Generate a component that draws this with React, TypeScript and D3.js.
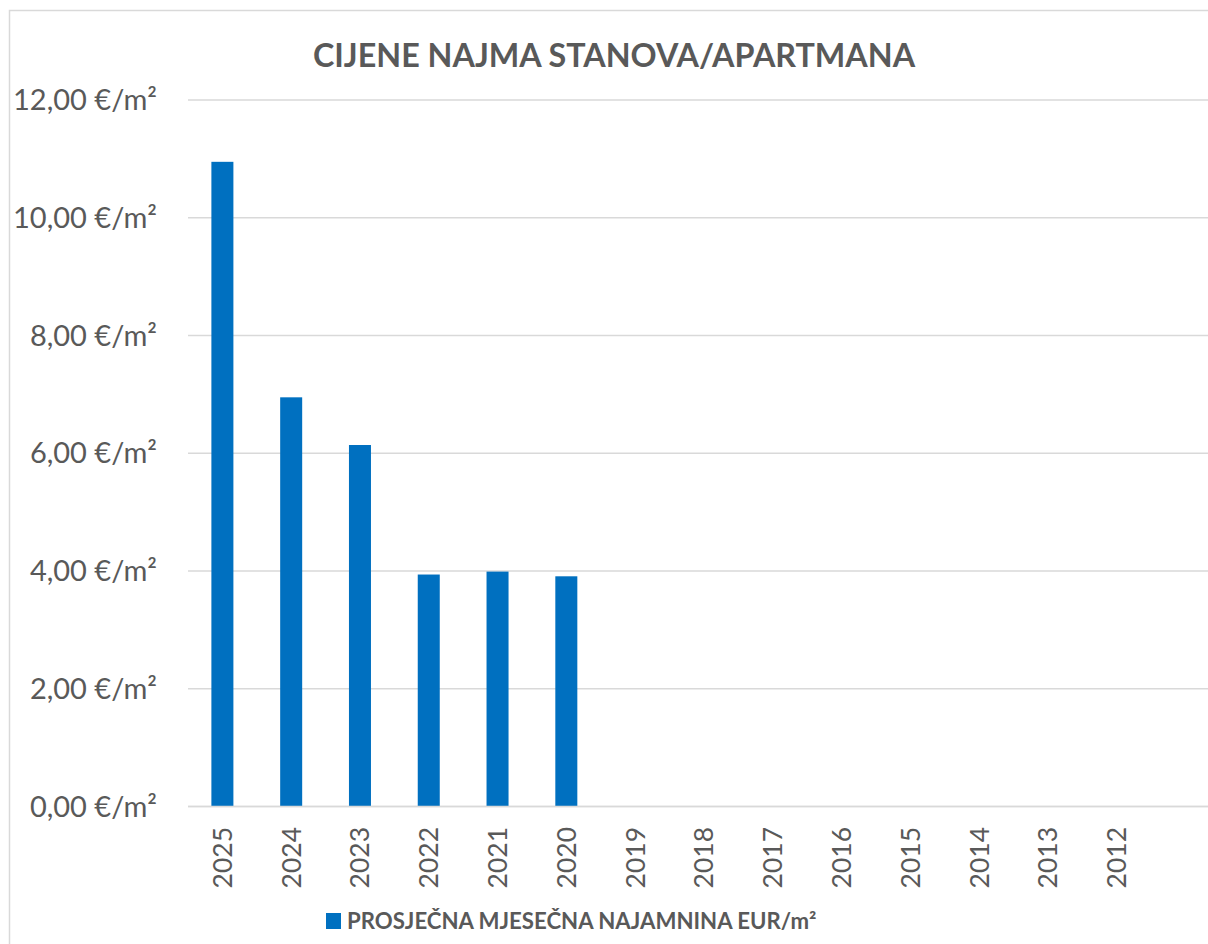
import React from "react";
import * as d3 from "d3";

const years = ["2025","2024","2023","2022","2021","2020","2019","2018","2017","2016","2015","2014","2013","2012"];
const values: (number | null)[] = [10.95, 6.95, 6.14, 3.94, 3.99, 3.91, null, null, null, null, null, null, null, null];
const yTicks = [0, 2, 4, 6, 8, 10, 12];
const title = "CIJENE NAJMA STANOVA/APARTMANA";
const seriesName = "PROSJEČNA MJESEČNA NAJAMNINA EUR/m²";

const W = 1208, H = 944;
const FONT = "Lato, 'Open Sans', sans-serif";
const TEXT = "#595959";
const GRID = "#d9d9d9";
const BAR = "#0070c0";

export default function App() {
  const x = d3.scaleBand<string>().domain(years).range([188, 1151]).paddingInner(0.68).paddingOuter(0.34);
  const y = d3.scaleLinear().domain([0, 12]).range([806.5, 100]);
  const fmt = (v: number) => d3.format(".2f")(v).replace(".", ",") + " €/m²";
  return (
    <svg width={W} height={H} style={{ position: "absolute", left: 0, top: 0, background: "#fff" }}>
      <rect x={9.5} y={10.5} width={1400} height={1200} fill="#fff" stroke={GRID} strokeWidth={1.5} />
      <text x={614} y={67} textAnchor="middle" fontFamily={FONT} fontWeight={700} fontSize={32.3} fill={TEXT}>{title}</text>
      {yTicks.map((t) => (
        <g key={t}>
          <line x1={188} x2={1210} y1={y(t)} y2={y(t)} stroke={GRID} strokeWidth={1.5} />
          <text x={157} y={y(t)} dy="0.35em" textAnchor="end" fontFamily={FONT} fontSize={29} fill={TEXT}>{fmt(t)}</text>
        </g>
      ))}
      {years.map((yr, i) => {
        const v = values[i];
        const cx = (x(yr) as number) + x.bandwidth() / 2;
        return (
          <g key={yr}>
            {v != null && (
              <rect x={x(yr)} y={y(v)} width={x.bandwidth()} height={y(0) - y(v)} fill={BAR} />
            )}
            <text transform={`translate(${cx + 9.5},827) rotate(-90)`} textAnchor="end" fontFamily={FONT} fontSize={26.5} fill={TEXT}>{yr}</text>
          </g>
        );
      })}
      <line x1={188} x2={1210} y1={y(0)} y2={y(0)} stroke={GRID} strokeWidth={1.5} />
      <rect x={326} y={913} width={15} height={16} fill={BAR} />
      <text x={347} y={929} fontFamily={FONT} fontWeight={700} fontSize={22.2} fill={TEXT}>{seriesName}</text>
    </svg>
  );
}
